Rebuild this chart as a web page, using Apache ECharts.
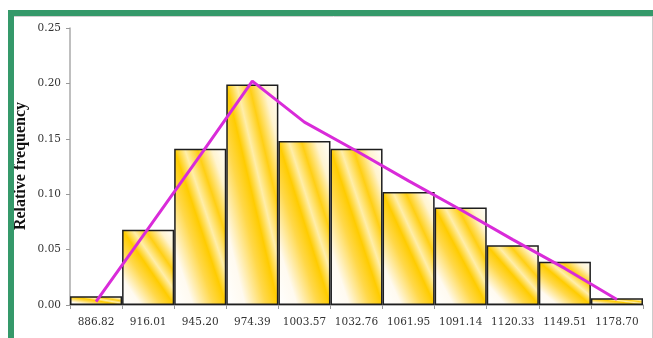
<!DOCTYPE html>
<html>
<head>
<meta charset="utf-8">
<script src="https://cdn.jsdelivr.net/npm/echarts@6/dist/echarts.min.js"></script>
<style>
  html, body { margin: 0; padding: 0; background: #fff; }
  #chart { width: 653px; height: 338px; }
</style>
</head>
<body>
<div id="chart"></div>
<script>
// Class midpoints of the histogram
const classMids = ['886.82', '916.01', '945.20', '974.39', '1003.57', '1032.76',
                   '1061.95', '1091.14', '1120.33', '1149.51', '1178.70'];
// Relative frequency of each class
const relFreq = [0.008, 0.068, 0.141, 0.199, 0.148, 0.141, 0.102, 0.088, 0.054, 0.039, 0.006];
// Frequency polygon drawn over the bars
const polygon = [0.003, 0.069, 0.135, 0.202, 0.165, 0.139, 0.112, 0.086, 0.059, 0.033, 0.005];
// Y axis ticks and title
const yTicks = { min: 0, max: 0.25, step: 0.05 };
const yTitle = 'Relative frequency';

// p = 0 at a bar's bottom-left corner, 1 at its top-right corner, 0.5 on the other diagonal
const GOLD_STOPS = [
  { offset: 0, color: '#ffffff' },
  { offset: 0.18, color: '#fffaf0' },
  { offset: 0.38, color: '#ffd84a' },
  { offset: 0.5, color: '#ffcc00' },
  { offset: 0.6, color: '#ffeeaa' },
  { offset: 0.72, color: '#ffcf14' },
  { offset: 0.86, color: '#fff4d0' },
  { offset: 1, color: '#ffffff' }
];

const tickFont = { fontFamily: 'DejaVu Serif', fontSize: 10.5, color: '#333' };

const chart = echarts.init(document.getElementById('chart'), null, { renderer: 'canvas' });

const option = {
  backgroundColor: '#ffffff',
  animation: false,
  grid: { left: 70, right: 10, top: 28, bottom: 33 },
  graphic: [
    { type: 'rect', shape: { x: 8, y: 10, width: 645, height: 6 }, style: { fill: '#35996a' }, z: 10 },
    { type: 'rect', shape: { x: 8, y: 10, width: 6, height: 328 }, style: { fill: '#35996a' }, z: 10 },
    { type: 'line', shape: { x1: 14, y1: 16.5, x2: 653, y2: 16.5 }, style: { stroke: '#d0d0d0', lineWidth: 1 }, z: 9 },
    { type: 'line', shape: { x1: 652.5, y1: 16, x2: 652.5, y2: 338 }, style: { stroke: '#cccccc', lineWidth: 1 }, z: 9 },
    {
      type: 'text', x: 21, y: 166, rotation: Math.PI / 2, z: 8,
      style: {
        text: yTitle, fill: '#111', align: 'center', verticalAlign: 'middle',
        font: 'bold 16px "Liberation Serif"'
      }
    }
  ],
  xAxis: {
    type: 'category',
    data: classMids,
    boundaryGap: true,
    axisLine: { lineStyle: { color: '#999', width: 1.5 } },
    axisTick: { show: true, length: 4, lineStyle: { color: '#999' } },
    axisLabel: Object.assign({ margin: 12, interval: 0 }, tickFont),
    splitLine: { show: false }
  },
  yAxis: {
    type: 'value',
    min: yTicks.min,
    max: yTicks.max,
    interval: yTicks.step,
    axisLine: { show: true, lineStyle: { color: '#aaa', width: 1.5 } },
    axisTick: { show: true, length: 4, lineStyle: { color: '#999' } },
    axisLabel: Object.assign({ margin: 9, formatter: v => v.toFixed(2) }, tickFont),
    splitLine: { show: false }
  },
  series: [
    {
      type: 'bar',
      data: relFreq,
      barCategoryGap: '0%',
      itemStyle: { color: '#ffcc00', borderColor: '#1e1e1e', borderWidth: 1.5 }
    },
    {
      type: 'line',
      data: polygon,
      showSymbol: false,
      symbol: 'none',
      lineStyle: { color: '#d92bd9', width: 3 },
      z: 5
    }
  ]
};

chart.setOption(option);

// Diagonal gold/white fill in screen coordinates: the bands run parallel to each
// bar's top-left -> bottom-right diagonal, whatever the bar's proportions.
const y0 = chart.convertToPixel({ yAxisIndex: 0 }, 0);
const bw = Math.abs(chart.convertToPixel({ xAxisIndex: 0 }, 1) - chart.convertToPixel({ xAxisIndex: 0 }, 0));
const styled = relFreq.map((v, i) => {
  const top = chart.convertToPixel({ yAxisIndex: 0 }, v);
  const h = Math.max(1, Math.abs(y0 - top));
  const cx = chart.convertToPixel({ xAxisIndex: 0 }, i);
  const cy = (y0 + top) / 2;
  const k = bw * h / (bw * bw + h * h);
  // direction (h, -w) points from the bottom-left corner towards the top-right corner
  const sx = cx - h * k, sy = cy + bw * k;
  const ex = cx + h * k, ey = cy - bw * k;
  return {
    value: v,
    itemStyle: { color: new echarts.graphic.LinearGradient(sx, sy, ex, ey, GOLD_STOPS, true) }
  };
});
chart.setOption({ series: [{ data: styled }, {}] });
</script>
</body>
</html>
